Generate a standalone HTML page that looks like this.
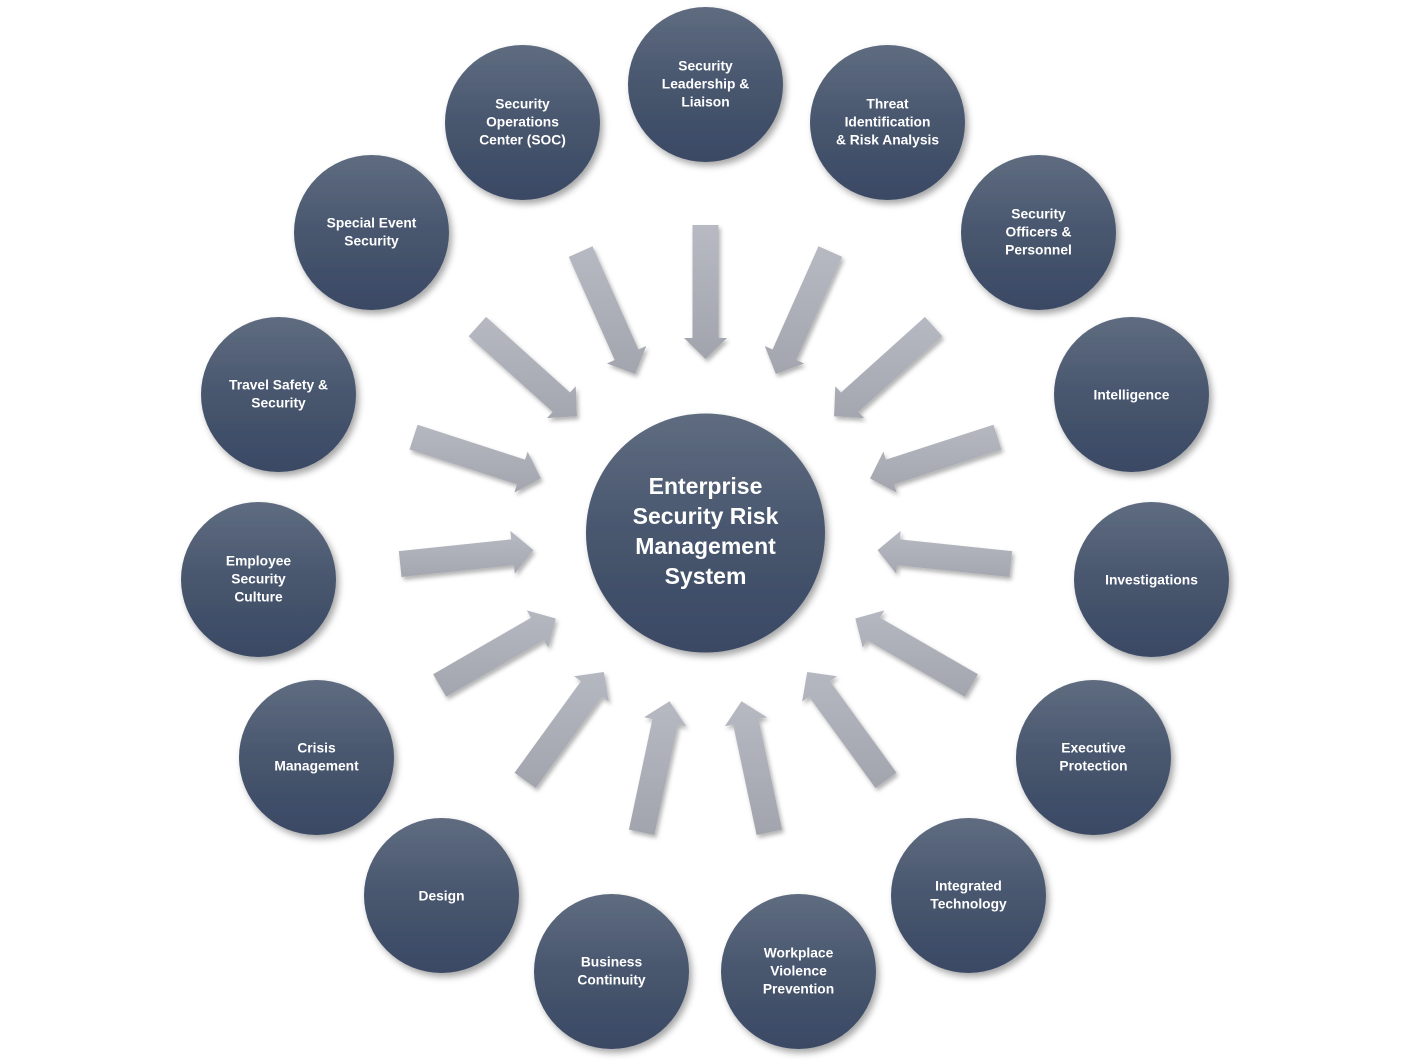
<!DOCTYPE html>
<html>
<head>
<meta charset="utf-8">
<style>
  html, body { margin:0; padding:0; background:#ffffff; }
  body { width:1410px; height:1062px; overflow:hidden; }
  svg { display:block; }
  text { font-family: "Liberation Sans", Arial, sans-serif; font-weight: bold; fill: #ffffff; text-anchor: middle; }
  .o { font-size: 13.8px; }
  .c { font-size: 23px; }
</style>
</head>
<body>
<svg width="1410" height="1062" viewBox="0 0 1410 1062" xmlns="http://www.w3.org/2000/svg">
  <defs>
    <linearGradient id="cg" x1="0" y1="0" x2="0" y2="1">
      <stop offset="0" stop-color="#5f6c80"/>
      <stop offset="0.5" stop-color="#48566e"/>
      <stop offset="1" stop-color="#3a4964"/>
    </linearGradient>
    <filter id="cs" x="-20%" y="-20%" width="150%" height="150%">
      <feDropShadow dx="3" dy="4" stdDeviation="3.5" flood-color="#000" flood-opacity="0.35"/>
    </filter>
    <filter id="as" x="-10%" y="-10%" width="120%" height="120%">
      <feDropShadow dx="2" dy="3" stdDeviation="2.2" flood-color="#000" flood-opacity="0.3"/>
    </filter>
    <linearGradient id="g0" gradientUnits="userSpaceOnUse" x1="307" y1="0" x2="173" y2="0"><stop offset="0" stop-color="#b7bac2"/><stop offset="1" stop-color="#a1a4ac"/></linearGradient>
    <linearGradient id="g1" gradientUnits="userSpaceOnUse" x1="303.9" y1="-28.5" x2="176.1" y2="28.5"><stop offset="0" stop-color="#b7bac2"/><stop offset="1" stop-color="#a1a4ac"/></linearGradient>
    <linearGradient id="g2" gradientUnits="userSpaceOnUse" x1="280.8" y1="-45.3" x2="199.2" y2="45.3"><stop offset="0" stop-color="#b7bac2"/><stop offset="1" stop-color="#a1a4ac"/></linearGradient>
    <linearGradient id="g3" gradientUnits="userSpaceOnUse" x1="252.7" y1="-39" x2="227.3" y2="39"><stop offset="0" stop-color="#b7bac2"/><stop offset="1" stop-color="#a1a4ac"/></linearGradient>
    <linearGradient id="g4" gradientUnits="userSpaceOnUse" x1="237.1" y1="-27.8" x2="242.9" y2="27.8"><stop offset="0" stop-color="#b7bac2"/><stop offset="1" stop-color="#a1a4ac"/></linearGradient>
    <linearGradient id="g5" gradientUnits="userSpaceOnUse" x1="214" y1="-45" x2="266" y2="45"><stop offset="0" stop-color="#b7bac2"/><stop offset="1" stop-color="#a1a4ac"/></linearGradient>
    <linearGradient id="g6" gradientUnits="userSpaceOnUse" x1="185.8" y1="-39.4" x2="294.2" y2="39.4"><stop offset="0" stop-color="#b7bac2"/><stop offset="1" stop-color="#a1a4ac"/></linearGradient>
    <linearGradient id="g7" gradientUnits="userSpaceOnUse" x1="171.5" y1="-14.6" x2="308.5" y2="14.6"><stop offset="0" stop-color="#b7bac2"/><stop offset="1" stop-color="#a1a4ac"/></linearGradient>
    <linearGradient id="g8" gradientUnits="userSpaceOnUse" x1="171.5" y1="14.6" x2="308.5" y2="-14.6"><stop offset="0" stop-color="#b7bac2"/><stop offset="1" stop-color="#a1a4ac"/></linearGradient>
    <linearGradient id="g9" gradientUnits="userSpaceOnUse" x1="185.8" y1="39.4" x2="294.2" y2="-39.4"><stop offset="0" stop-color="#b7bac2"/><stop offset="1" stop-color="#a1a4ac"/></linearGradient>
    <linearGradient id="g10" gradientUnits="userSpaceOnUse" x1="214" y1="45" x2="266" y2="-45"><stop offset="0" stop-color="#b7bac2"/><stop offset="1" stop-color="#a1a4ac"/></linearGradient>
    <linearGradient id="g11" gradientUnits="userSpaceOnUse" x1="237.1" y1="27.8" x2="242.9" y2="-27.8"><stop offset="0" stop-color="#b7bac2"/><stop offset="1" stop-color="#a1a4ac"/></linearGradient>
    <linearGradient id="g12" gradientUnits="userSpaceOnUse" x1="252.7" y1="39" x2="227.3" y2="-39"><stop offset="0" stop-color="#b7bac2"/><stop offset="1" stop-color="#a1a4ac"/></linearGradient>
    <linearGradient id="g13" gradientUnits="userSpaceOnUse" x1="280.8" y1="45.3" x2="199.2" y2="-45.3"><stop offset="0" stop-color="#b7bac2"/><stop offset="1" stop-color="#a1a4ac"/></linearGradient>
    <linearGradient id="g14" gradientUnits="userSpaceOnUse" x1="303.9" y1="28.5" x2="176.1" y2="-28.5"><stop offset="0" stop-color="#b7bac2"/><stop offset="1" stop-color="#a1a4ac"/></linearGradient>
  </defs>

  <!-- Arrows -->
  <g filter="url(#as)">
    <g transform="translate(705.5,532) rotate(-90)"><polygon points="307,-13 194,-13 194,-21.5 173,0 194,21.5 194,13 307,13" fill="url(#g0)"/></g>
    <g transform="translate(705.5,532) rotate(-66)"><polygon points="307,-13 194,-13 194,-21.5 173,0 194,21.5 194,13 307,13" fill="url(#g1)"/></g>
    <g transform="translate(705.5,532) rotate(-42)"><polygon points="307,-13 194,-13 194,-21.5 173,0 194,21.5 194,13 307,13" fill="url(#g2)"/></g>
    <g transform="translate(705.5,532) rotate(-18)"><polygon points="307,-13 194,-13 194,-21.5 173,0 194,21.5 194,13 307,13" fill="url(#g3)"/></g>
    <g transform="translate(705.5,532) rotate(6)"><polygon points="307,-13 194,-13 194,-21.5 173,0 194,21.5 194,13 307,13" fill="url(#g4)"/></g>
    <g transform="translate(705.5,532) rotate(30)"><polygon points="307,-13 194,-13 194,-21.5 173,0 194,21.5 194,13 307,13" fill="url(#g5)"/></g>
    <g transform="translate(705.5,532) rotate(54)"><polygon points="307,-13 194,-13 194,-21.5 173,0 194,21.5 194,13 307,13" fill="url(#g6)"/></g>
    <g transform="translate(705.5,532) rotate(78)"><polygon points="307,-13 194,-13 194,-21.5 173,0 194,21.5 194,13 307,13" fill="url(#g7)"/></g>
    <g transform="translate(705.5,532) rotate(102)"><polygon points="307,-13 194,-13 194,-21.5 173,0 194,21.5 194,13 307,13" fill="url(#g8)"/></g>
    <g transform="translate(705.5,532) rotate(126)"><polygon points="307,-13 194,-13 194,-21.5 173,0 194,21.5 194,13 307,13" fill="url(#g9)"/></g>
    <g transform="translate(705.5,532) rotate(150)"><polygon points="307,-13 194,-13 194,-21.5 173,0 194,21.5 194,13 307,13" fill="url(#g10)"/></g>
    <g transform="translate(705.5,532) rotate(174)"><polygon points="307,-13 194,-13 194,-21.5 173,0 194,21.5 194,13 307,13" fill="url(#g11)"/></g>
    <g transform="translate(705.5,532) rotate(198)"><polygon points="307,-13 194,-13 194,-21.5 173,0 194,21.5 194,13 307,13" fill="url(#g12)"/></g>
    <g transform="translate(705.5,532) rotate(222)"><polygon points="307,-13 194,-13 194,-21.5 173,0 194,21.5 194,13 307,13" fill="url(#g13)"/></g>
    <g transform="translate(705.5,532) rotate(246)"><polygon points="307,-13 194,-13 194,-21.5 173,0 194,21.5 194,13 307,13" fill="url(#g14)"/></g>
  </g>

  <!-- Circles -->
  <g filter="url(#cs)" fill="url(#cg)">
    <circle cx="705.5" cy="533" r="119.5"/>
    <circle cx="705.5" cy="84.5" r="77.5"/>
    <circle cx="887.5" cy="122.5" r="77.5"/>
    <circle cx="1038.5" cy="232.5" r="77.5"/>
    <circle cx="1131.5" cy="394.5" r="77.5"/>
    <circle cx="1151.5" cy="579.5" r="77.5"/>
    <circle cx="1093.5" cy="757.5" r="77.5"/>
    <circle cx="968.5" cy="895.5" r="77.5"/>
    <circle cx="798.5" cy="971.5" r="77.5"/>
    <circle cx="611.5" cy="971.5" r="77.5"/>
    <circle cx="441.5" cy="895.5" r="77.5"/>
    <circle cx="316.5" cy="757.5" r="77.5"/>
    <circle cx="258.5" cy="579.5" r="77.5"/>
    <circle cx="278.5" cy="394.5" r="77.5"/>
    <circle cx="371.5" cy="232.5" r="77.5"/>
    <circle cx="522.5" cy="122.5" r="77.5"/>
  </g>

  <!-- Center text -->
  <text class="c" x="705.5" y="494">Enterprise</text>
  <text class="c" x="705.5" y="524">Security Risk</text>
  <text class="c" x="705.5" y="554">Management</text>
  <text class="c" x="705.5" y="584">System</text>

  <!-- Outer labels -->
  <text class="o" x="705.5" y="70.5">Security</text>
  <text class="o" x="705.5" y="88.5">Leadership &amp;</text>
  <text class="o" x="705.5" y="106.5">Liaison</text>

  <text class="o" x="887.5" y="108.5">Threat</text>
  <text class="o" x="887.5" y="126.5">Identification</text>
  <text class="o" x="887.5" y="144.5">&amp; Risk Analysis</text>

  <text class="o" x="1038.5" y="218.5">Security</text>
  <text class="o" x="1038.5" y="236.5">Officers &amp;</text>
  <text class="o" x="1038.5" y="254.5">Personnel</text>

  <text class="o" x="1131.5" y="399.5">Intelligence</text>

  <text class="o" x="1151.5" y="584.5">Investigations</text>

  <text class="o" x="1093.5" y="752.5">Executive</text>
  <text class="o" x="1093.5" y="770.5">Protection</text>

  <text class="o" x="968.5" y="890.5">Integrated</text>
  <text class="o" x="968.5" y="908.5">Technology</text>

  <text class="o" x="798.5" y="957.5">Workplace</text>
  <text class="o" x="798.5" y="975.5">Violence</text>
  <text class="o" x="798.5" y="993.5">Prevention</text>

  <text class="o" x="611.5" y="966.5">Business</text>
  <text class="o" x="611.5" y="984.5">Continuity</text>

  <text class="o" x="441.5" y="900.5">Design</text>

  <text class="o" x="316.5" y="752.5">Crisis</text>
  <text class="o" x="316.5" y="770.5">Management</text>

  <text class="o" x="258.5" y="565.5">Employee</text>
  <text class="o" x="258.5" y="583.5">Security</text>
  <text class="o" x="258.5" y="601.5">Culture</text>

  <text class="o" x="278.5" y="389.5">Travel Safety &amp;</text>
  <text class="o" x="278.5" y="407.5">Security</text>

  <text class="o" x="371.5" y="227.5">Special Event</text>
  <text class="o" x="371.5" y="245.5">Security</text>

  <text class="o" x="522.5" y="108.5">Security</text>
  <text class="o" x="522.5" y="126.5">Operations</text>
  <text class="o" x="522.5" y="144.5">Center (SOC)</text>
</svg>
</body>
</html>
